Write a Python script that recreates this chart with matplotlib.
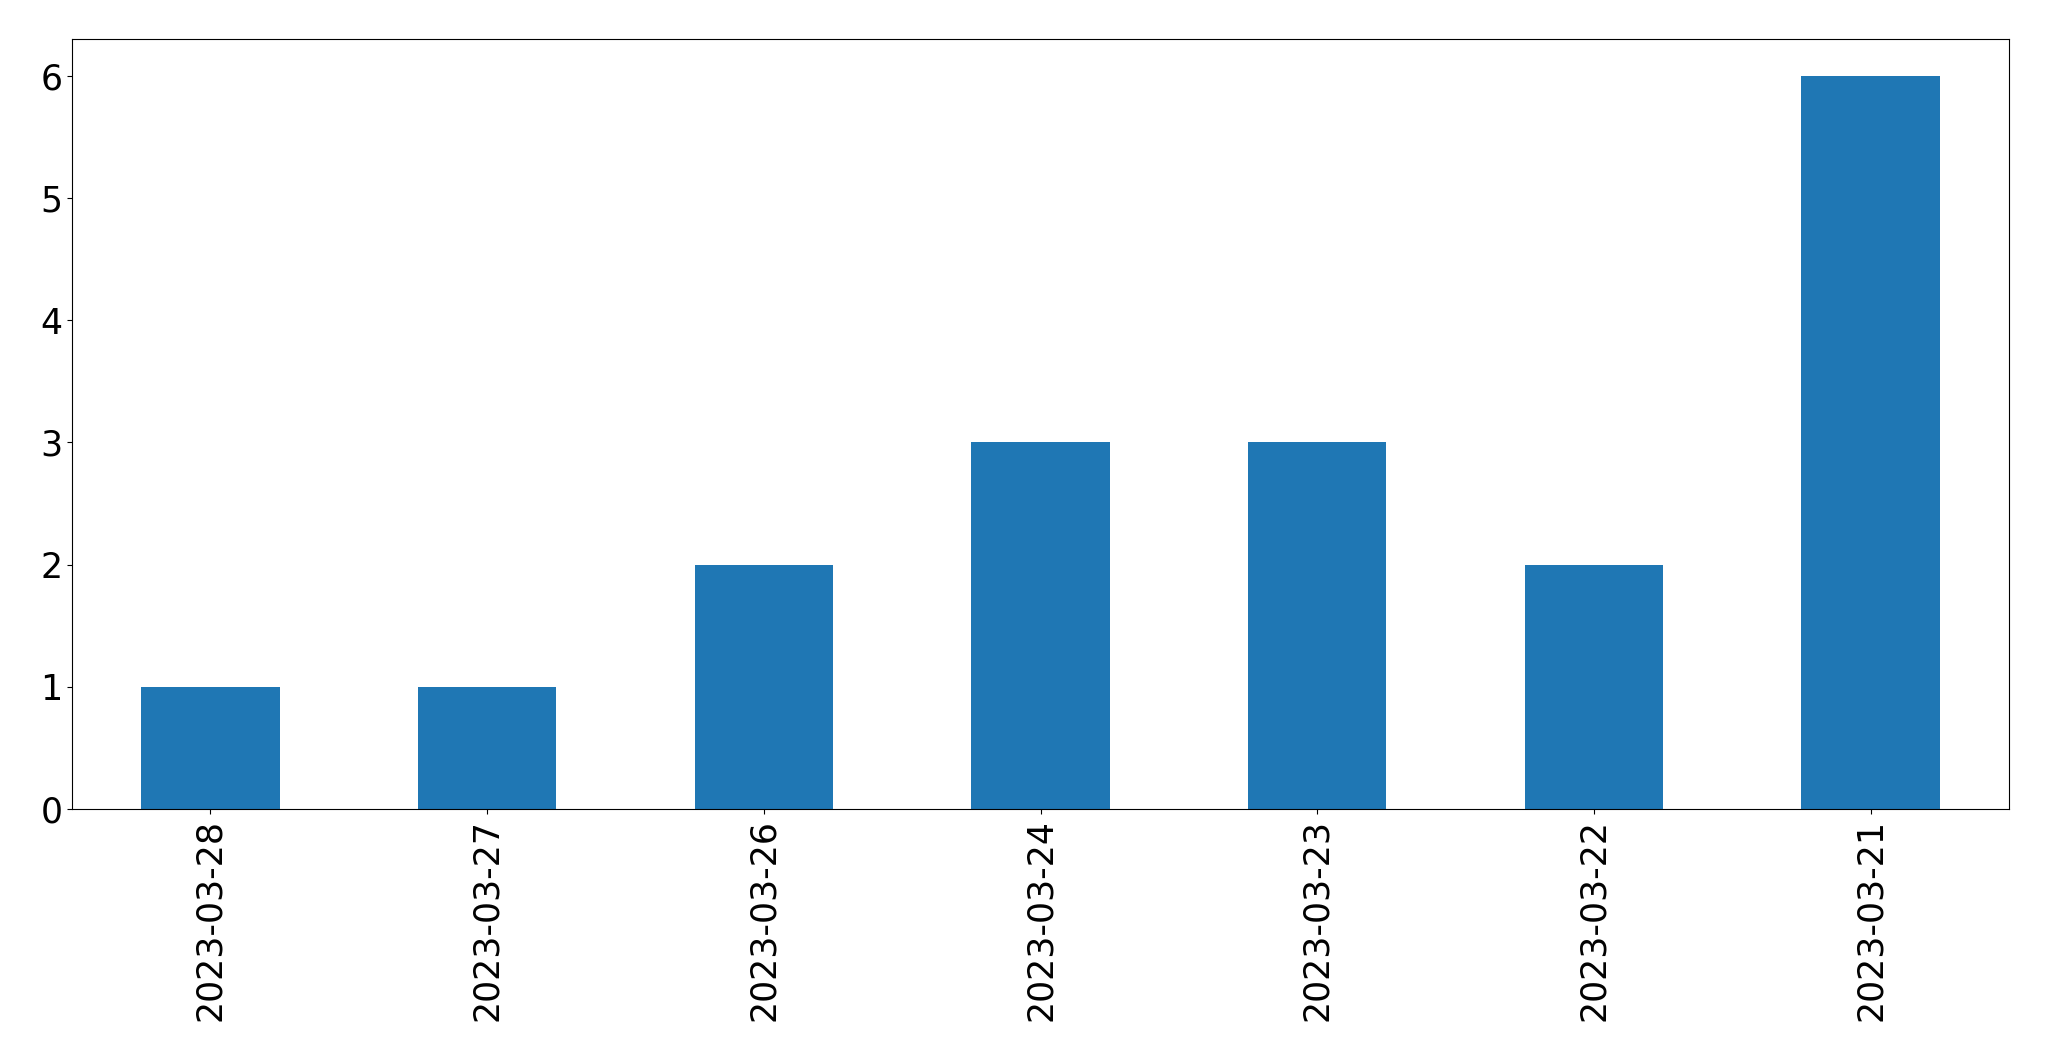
import matplotlib
matplotlib.use("Agg")
import matplotlib.pyplot as plt
import pandas as pd

# ----- data -----
dates = ["2023-03-28", "2023-03-27", "2023-03-26", "2023-03-24",
         "2023-03-23", "2023-03-22", "2023-03-21"]
counts = [1, 1, 2, 3, 3, 2, 6]

s = pd.Series(counts, index=dates)

# ----- plotting -----
fig = plt.figure(figsize=(20.49, 10.61), dpi=100)
ax = fig.add_axes([72 / 2049, (1061 - 809) / 1061,
                   (2009 - 72) / 2049, (809 - 39) / 1061])
s.plot(kind="bar", ax=ax, color="#1f77b4", fontsize=25)
ax.tick_params(axis="both", labelsize=25)

fig.savefig("out.png", dpi=100)
